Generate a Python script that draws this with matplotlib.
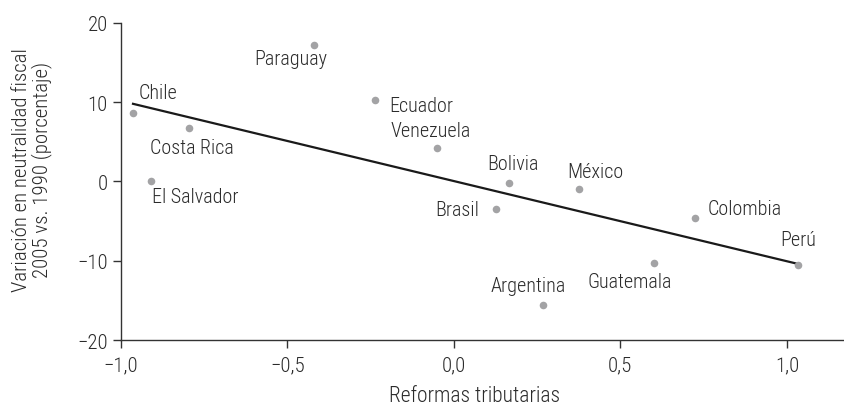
import matplotlib.pyplot as plt
import numpy as np
from matplotlib.ticker import FuncFormatter

plt.rcParams['font.family'] = ['Roboto Condensed', 'Liberation Sans Narrow', 'DejaVu Sans']
plt.rcParams['font.stretch'] = 'condensed'
plt.rcParams['font.weight'] = 'light'
plt.rcParams['axes.labelweight'] = 'light'

paises = ["Chile", "Costa Rica", "El Salvador", "Paraguay", "Ecuador", "Venezuela",
          "Bolivia", "Brasil", "México", "Colombia", "Perú", "Guatemala", "Argentina"]
reformas = [-0.964, -0.795, -0.91, -0.42, -0.236, -0.05,
            0.164, 0.125, 0.377, 0.723, 1.033, 0.60, 0.266]
neutralidad = [8.6, 6.7, 0.0, 17.2, 10.3, 4.2,
               -0.25, -3.5, -0.9, -4.6, -10.5, -10.3, -15.6]

# label offsets in points (dx, dy, ha)
offsets = {
    "Chile": (4, 15, "left"),
    "Costa Rica": (2, -14, "center"),
    "El Salvador": (1, -11, "left"),
    "Paraguay": (-17, -10, "center"),
    "Ecuador": (10, -4, "left"),
    "Venezuela": (-5, 13, "center"),
    "Bolivia": (3, 14, "center"),
    "Brasil": (-12, 0, "right"),
    "México": (-9, 12, "left"),
    "Colombia": (9, 7, "left"),
    "Perú": (0, 18, "center"),
    "Guatemala": (-17, -13, "center"),
    "Argentina": (-10, 14, "center"),
}

fig = plt.figure(figsize=(8.44, 4.06), dpi=100)
ax = fig.add_axes([0.1434, 0.160, 0.856, 0.7816])

ax.scatter(reformas, neutralidad, s=30, color="#a3a3a5", zorder=3, linewidths=0)

x = np.array(reformas)
y = np.array(neutralidad)
m, b = np.polyfit(x, y, 1)
xl = np.array([x.min(), x.max()])
ax.plot(xl, m * xl + b, color="#1a1a1a", lw=1.6, zorder=2)

for p, xi, yi in zip(paises, reformas, neutralidad):
    dx, dy, ha = offsets[p]
    ax.annotate(p, (xi, yi), xytext=(dx, dy), textcoords="offset points",
                ha=ha, va="center", fontsize=14.5, color="#2b2b2b")

ax.set_xlim(-1.0, 1.17)
ax.set_ylim(-20, 20)
ax.set_xticks([-1.0, -0.5, 0.0, 0.5, 1.0])
ax.set_yticks([-20, -10, 0, 10, 20])
ax.xaxis.set_major_formatter(FuncFormatter(lambda v, _: f"{v:.1f}".replace(".", ",").replace("-", "\u2212")))
ax.yaxis.set_major_formatter(FuncFormatter(lambda v, _: f"{v:.0f}".replace("-", "\u2212")))

for s in ["top", "right"]:
    ax.spines[s].set_visible(False)
for s in ["left", "bottom"]:
    ax.spines[s].set_color("#333333")
    ax.spines[s].set_linewidth(1.0)
ax.tick_params(colors="#333333", labelcolor="#2b2b2b", labelsize=15, length=6, width=1.0)
ax.tick_params(axis="x", pad=5)

ax.set_xlabel("Reformas tributarias", fontsize=15.5, color="#2b2b2b", fontweight="light")
ax.xaxis.set_label_coords(0.489, -0.142)
ax.set_ylabel("Variación en neutralidad fiscal\n2005 vs. 1990 (porcentaje)",
              fontsize=15, color="#2b2b2b", linespacing=1.0, va="center", fontweight="light")
ax.yaxis.set_label_coords(-0.123, 0.54)

fig.savefig("out.png", dpi=100)
